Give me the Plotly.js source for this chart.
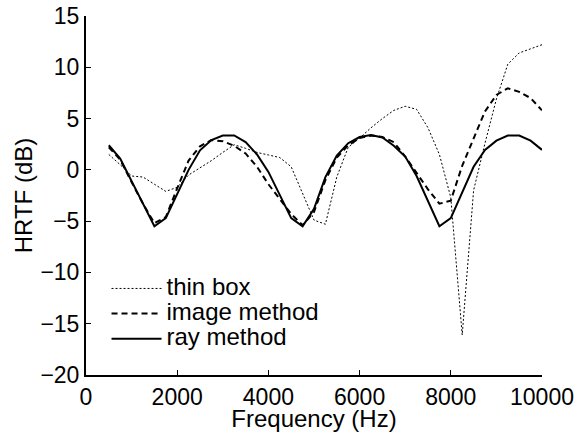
<!DOCTYPE html>
<html>
<head>
<meta charset="utf-8">
<script src="https://cdn.plot.ly/plotly-3.0.1.min.js"></script>
<style>html,body{margin:0;padding:0;background:#fff;}#chart{width:577px;height:432px;}</style>
</head>
<body>
<div id="chart"></div>
<script>
const freq = [500,750,1000,1250,1500,1750,2000,2250,2500,2750,3000,3250,3500,3750,4000,4250,4500,4750,5000,5250,5500,5750,6000,6250,6500,6750,7000,7250,7500,7750,8000,8250,8500,8750,9000,9250,9500,9750,10000];
const thinBox = [1.5,0.5,-0.6,-0.7,-1.4,-2.1,-1.7,-0.5,0.2,0.9,1.7,2.45,2.1,1.7,1.45,1.2,0.3,-2.3,-4.9,-5.3,-0.7,2.2,3.1,4.1,5.0,5.8,6.2,5.9,4.1,1.5,-2.7,-16.1,-2.0,2.6,6.9,10.3,11.4,11.8,12.2];
const imageMethod = [2.2,1.0,-1.2,-3.3,-5.2,-4.6,-1.8,0.9,2.3,2.9,2.8,2.35,1.6,0.3,-1.4,-2.9,-4.3,-5.4,-4.1,-1.0,1.2,2.4,3.1,3.35,3.2,2.7,1.3,-0.3,-1.9,-3.3,-3.0,0.4,3.1,5.7,7.3,7.95,7.6,7.0,5.8];
const rayMethod = [2.4,1.1,-1.1,-3.3,-5.5,-4.7,-2.3,0.0,1.9,2.9,3.35,3.35,2.7,1.5,-0.2,-2.5,-4.7,-5.5,-3.8,-0.7,1.4,2.6,3.2,3.4,3.15,2.35,1.3,-0.6,-3.1,-5.5,-4.7,-2.2,0.3,1.95,2.85,3.35,3.35,2.85,1.95];
const seriesNames = ["thin box","image method","ray method"];
const xTicks = [0,2000,4000,6000,8000,10000];
const yTicks = [-20,-15,-10,-5,0,5,10,15];
const yTickText = ["\u221220","\u221215","\u221210","\u22125","0","5","10","15"];

const FONT = '"Liberation Sans", Arial, Helvetica, sans-serif';
const big = s => '<span style="font-size:24px">' + s + '</span>';
const traces = [
  {x: freq, y: thinBox, name: big(seriesNames[0]), mode: 'lines',
   line: {color: '#000', width: 1, dash: '2px,2px'}},
  {x: freq, y: imageMethod, name: big(seriesNames[1]), mode: 'lines',
   line: {color: '#000', width: 2, dash: '6px,4px'}},
  {x: freq, y: rayMethod, name: big(seriesNames[2]), mode: 'lines',
   line: {color: '#000', width: 2}}
];
const layout = {
  width: 577, height: 432,
  margin: {l: 86, r: 35, t: 16, b: 57},
  paper_bgcolor: '#fff', plot_bgcolor: '#fff',
  font: {family: FONT, size: 24, color: '#000'},
  showlegend: true,
  legend: {x: 0.045, y: 0.29, xanchor: 'left', yanchor: 'top',
           itemwidth: 50,
           bgcolor: 'rgba(0,0,0,0)', borderwidth: 0,
           font: {family: FONT, size: 17, color: '#000'}},
  xaxis: {range: [0, 10000], tickmode: 'array', tickvals: xTicks,
          ticktext: xTicks.map(String),
          ticks: 'inside', ticklen: 5, tickwidth: 1, tickcolor: '#000',
          showline: true, linecolor: '#000', linewidth: 2,
          showgrid: false, zeroline: false,
          tickfont: {family: FONT, size: 23},
          title: {text: 'Frequency (Hz)', font: {family: FONT, size: 24}, standoff: 0}},
  yaxis: {range: [-20, 15], tickmode: 'array', tickvals: yTicks, ticktext: yTickText,
          ticks: 'inside', ticklen: 5, tickwidth: 1, tickcolor: '#000',
          showline: true, linecolor: '#000', linewidth: 2,
          showgrid: false, zeroline: false,
          tickfont: {family: FONT, size: 23},
          title: {text: 'HRTF (dB)', font: {family: FONT, size: 24}, standoff: 1}}
};
Plotly.newPlot('chart', traces, layout, {displayModeBar: false, staticPlot: true});
</script>
</body>
</html>
